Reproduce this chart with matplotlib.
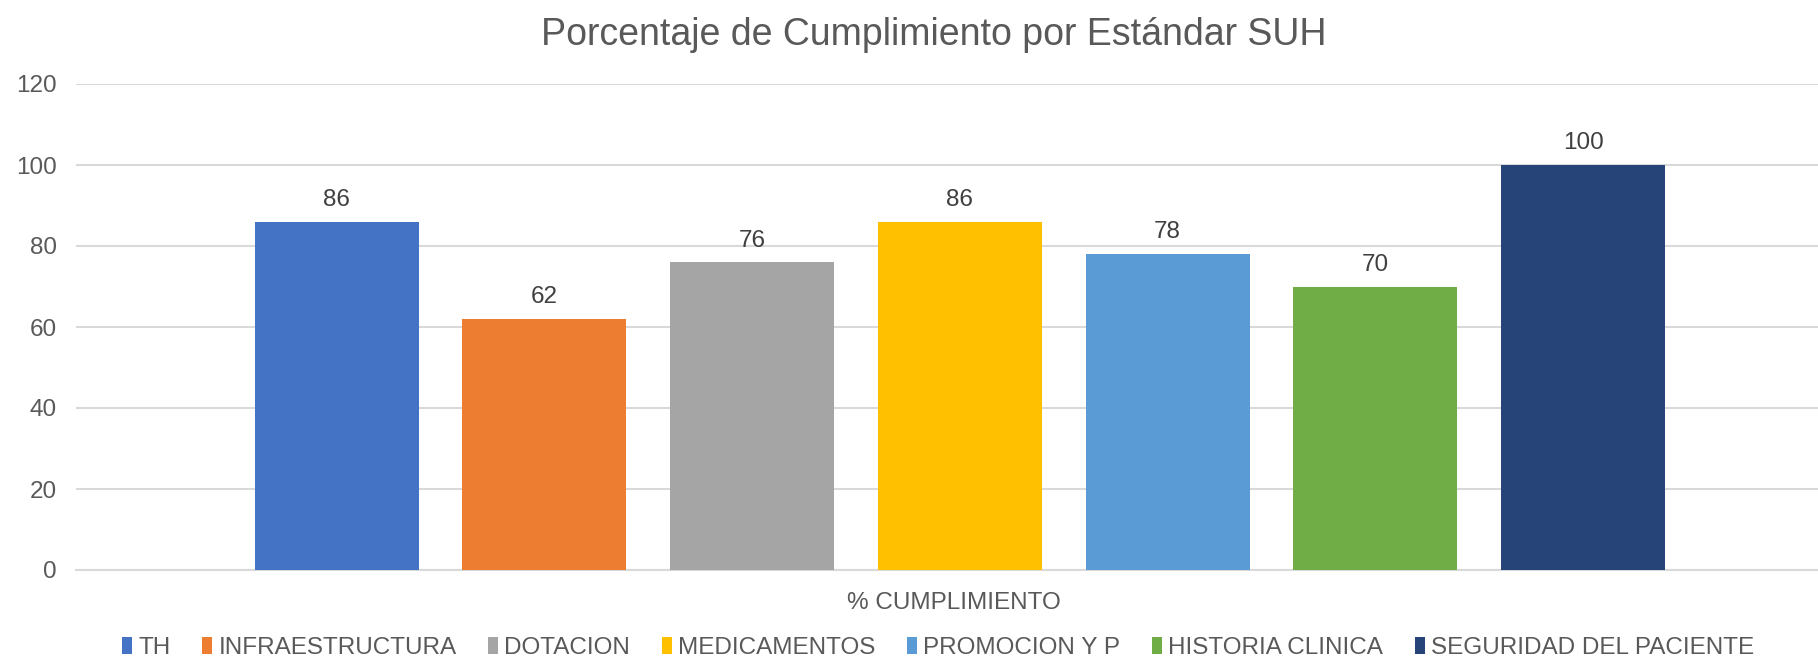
import matplotlib.pyplot as plt
from matplotlib.patches import Patch

# ---------------- Data ----------------
estandares = ["TH", "INFRAESTRUCTURA", "DOTACION", "MEDICAMENTOS",
              "PROMOCION Y P", "HISTORIA CLINICA", "SEGURIDAD DEL PACIENTE"]
cumplimiento = [86, 62, 76, 86, 78, 70, 100]
colores = ["#4472C4", "#ED7D31", "#A5A5A5", "#FFC000",
           "#5B9BD5", "#70AD47", "#264478"]
categoria = "% CUMPLIMIENTO"
y_ticks = [0, 20, 40, 60, 80, 100, 120]

TEXT = "#595959"
GRID = "#D9D9D9"
FS = 17.5

plt.rcParams['font.family'] = ['Liberation Sans', 'DejaVu Sans']

fig = plt.figure(figsize=(18.18, 6.6), dpi=100)
ax = fig.add_axes([76/1818, 1 - 570/660, 1 - 76/1818, (570 - 84)/660])

x = list(range(len(estandares)))
bars = ax.bar(x, cumplimiento, width=0.789, color=colores, zorder=3)

for xi, v in zip(x, cumplimiento):
    ax.annotate(str(v), (xi, v), xytext=(0, 11.3), textcoords="offset points",
                ha="center", va="baseline", fontsize=FS, color="#404040")

ax.set_xlim(-1.254, 7.13)
ax.set_ylim(0, 120)
ax.set_yticks(y_ticks)
ax.yaxis.grid(True, color=GRID, linewidth=1.5, zorder=0)
ax.tick_params(axis="y", length=0, labelsize=FS, labelcolor=TEXT, pad=14)
ax.set_xticks([2.97])
ax.set_xticklabels([categoria])
ax.tick_params(axis="x", length=0, labelsize=FS, labelcolor=TEXT, pad=16)
for s in ["top", "right", "left"]:
    ax.spines[s].set_visible(False)
ax.spines["bottom"].set_color(GRID)
ax.spines["bottom"].set_linewidth(1.5)

fig.text(934 / 1818, 1 - 35 / 660, "Porcentaje de Cumplimiento por Estándar SUH",
         ha="center", va="center", fontsize=27, color=TEXT)

handles = [Patch(facecolor=c, edgecolor="none") for c in colores]
fig.legend(handles, estandares, loc="center", bbox_to_anchor=(938 / 1818, 1 - 648 / 660),
           ncol=7, frameon=False, fontsize=FS, labelcolor=TEXT,
           handlelength=0.42, handleheight=0.65, handletextpad=0.25, columnspacing=1.3)

fig.savefig("out.png", dpi=100, facecolor="white")
